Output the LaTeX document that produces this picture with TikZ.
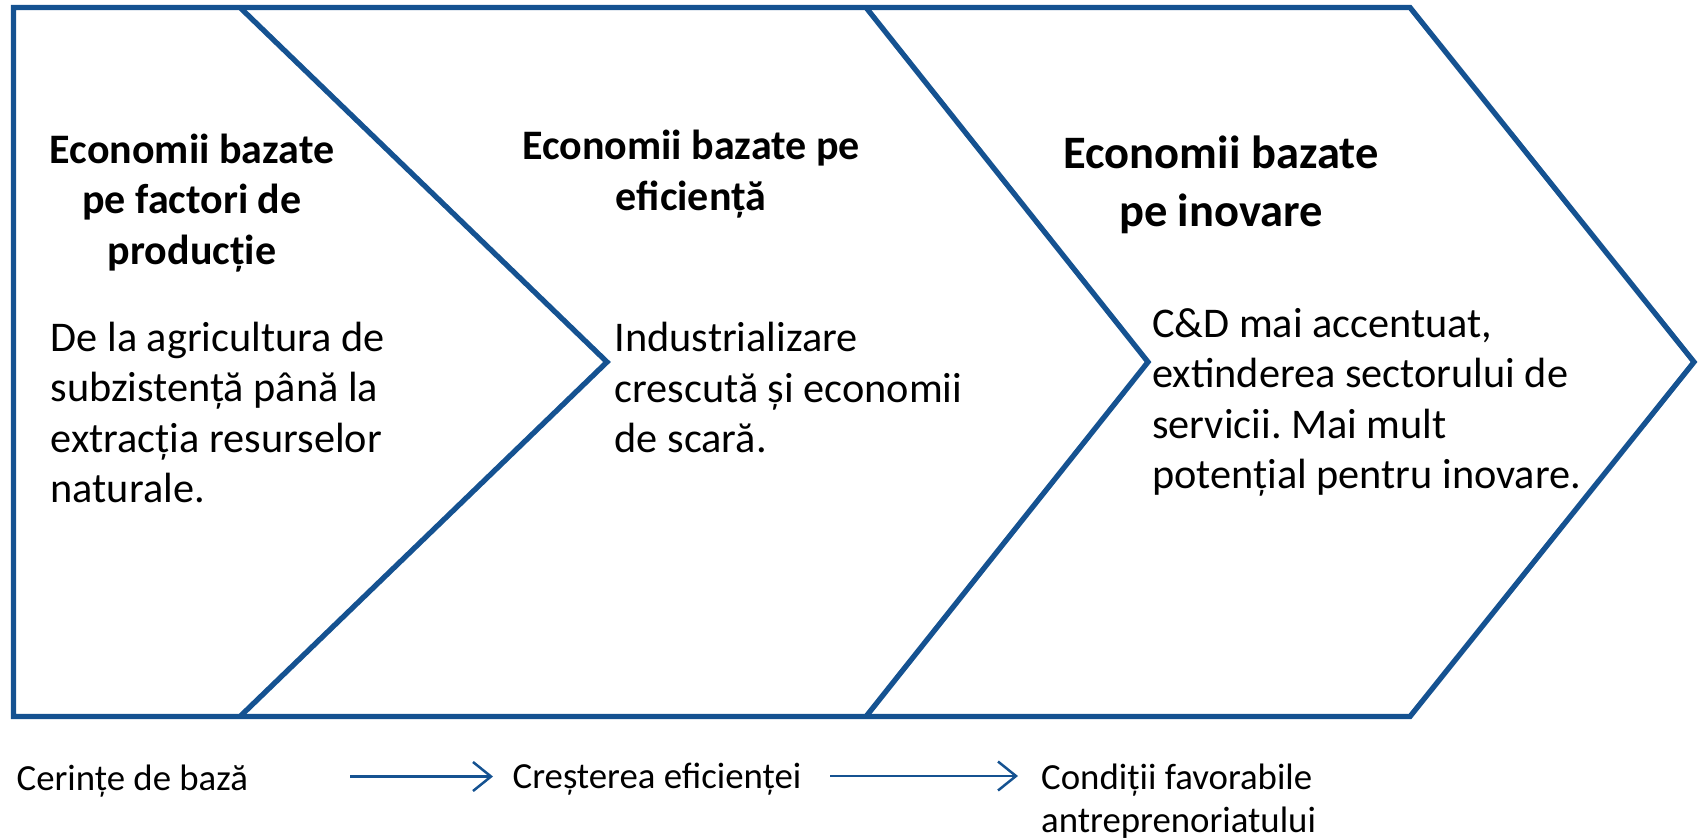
\documentclass[tikz,border=0pt]{standalone}
\usepackage{fontspec}
\setmainfont{Carlito}
\usetikzlibrary{arrows.meta}
\definecolor{chevblue}{HTML}{155291}
\frenchspacing
\tikzset{
  outline/.style={draw=chevblue, line width=5.3pt, line join=miter},
  ttl/.style={inner sep=0pt, align=center, anchor=base, font=\frenchspacing\fontsize{42}{50.6}\selectfont\bfseries},
  ttlbig/.style={inner sep=0pt, align=center, anchor=base, font=\frenchspacing\fontsize{46.5}{58.4}\selectfont\bfseries},
  body/.style={inner sep=0pt, align=left, anchor=base west, font=\frenchspacing\fontsize{42.3}{50.5}\selectfont},
  foot/.style={inner sep=0pt, align=left, anchor=base west, font=\frenchspacing\fontsize{36.8}{43.4}\selectfont},
  flow/.style={draw=chevblue, line width=2.5pt, -{Straight Barb[length=18pt, width=29pt, line width=2.5pt]}}
}
\begin{document}
\begin{tikzpicture}[x=1pt, y=-1pt]
\useasboundingbox (0,0) rectangle (1700,839);
% chevron outline
\draw[outline] (13.5,7.5) -- (1410,7.5) -- (1694,362) -- (1410,716.5) -- (13.5,716.5) -- cycle;
\draw[outline] (240,7.5) -- (607,362) -- (240,716.5);
\draw[outline] (866,7.5) -- (1148,362) -- (866,716.5);
% titles (base anchor = baseline of the last line)
\node[ttl] (t1) at (192,264.2) {Economii bazate\\pe factori de\\producție};
\node[ttl] (t2) at (691,210.1) {Economii bazate pe\\eficiență};
\node[ttlbig] (t3) at (1221,226.7) {Economii bazate\\pe inovare};
% bodies
\node[body] (b1) at (50.5,502.5) {De la agricultura de\\subzistență până la\\extracția resurselor\\naturale.};
\node[body] (b2) at (614.5,452.7) {Industrializare\\crescută și economii\\de scară.};
\node[body] (b3) at (1152,488.8) {C\&D mai accentuat,\\extinderea sectorului de\\servicii. Mai mult\\potențial pentru inovare.};
% footer
\node[foot] (f1) at (16.5,790) {Cerințe de bază};
\node[foot] (f2) at (512.5,788) {Creșterea eficienței};
\node[foot] (f3) at (1041,832.7) {Condiții favorabile\\antreprenoriatului};
\coordinate (a1s) at (350,776.5);
\coordinate (a1e) at (493,776.5);
\coordinate (a2s) at (830,776);
\coordinate (a2e) at (1018,776);
\draw[flow] (a1s) -- (a1e);
\draw[flow] (a2s) -- (a2e);
\end{tikzpicture}
\end{document}
